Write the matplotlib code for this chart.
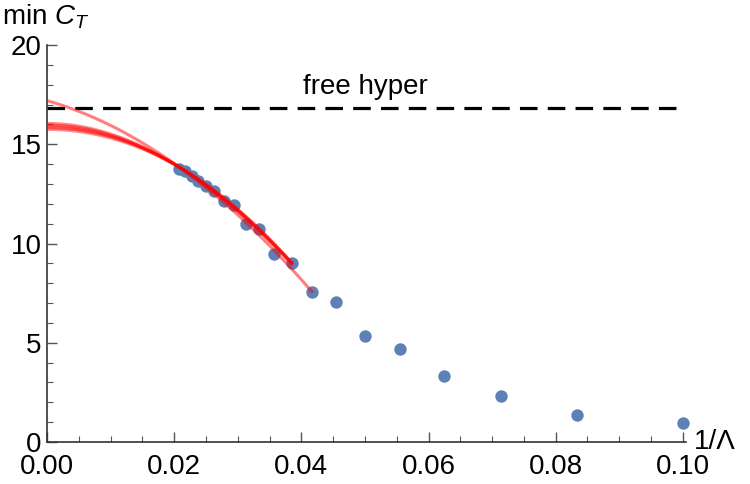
import numpy as np
import matplotlib.pyplot as plt
from matplotlib.ticker import MultipleLocator, FormatStrFormatter

plt.rcParams['font.family'] = ['Liberation Sans', 'DejaVu Sans']
plt.rcParams['mathtext.fontset'] = 'custom'
plt.rcParams['mathtext.rm'] = 'Liberation Sans'
plt.rcParams['mathtext.it'] = 'Liberation Sans:italic'

# data points: 1/Lambda and min C_T
inv_lambda = [1/10, 1/12, 1/14, 1/16, 1/18, 1/20, 1/22, 1/24, 1/26, 1/28,
              1/30, 1/32, 1/34, 1/36, 1/38, 1/40, 1/42, 1/44, 1/46, 1/48]
min_ct = [0.96, 1.36, 2.32, 3.32, 4.68, 5.34, 7.05, 7.56, 9.02, 9.47,
          10.73, 10.98, 11.94, 12.14, 12.64, 12.90, 13.15, 13.40, 13.65, 13.75]

free_hyper = 16.83

# fit curves (coefficients): c0 + c1 x + c2 x^2 + c3 x^3
fit_a = [17.2, -91.6, -3348.0, 0.0]
fit_a_xmax = 1/24
fit_bundle = [[15.75, 0.0, -4263.0, -7577.0],
              [15.83, 0.0, -4500.0, -2000.0],
              [15.90, 0.0, -4889.0, 6040.0],
              [15.97, 0.0, -5150.0, 11000.0],
              [16.05, 0.0, -5515.0, 19654.0]]
fit_bundle_xmax = 1/26

fig = plt.figure(figsize=(7.5, 4.84), dpi=100)
ax = fig.add_axes([0.0627, 0.0868, 0.8520, 0.8202])

red = (1.0, 0.0, 0.0)
for c in fit_bundle:
    xs = np.linspace(0, fit_bundle_xmax, 200)
    ax.plot(xs, np.polyval(c[::-1], xs), color=red, alpha=0.45, lw=2.2, zorder=3)
xs = np.linspace(0, fit_a_xmax, 200)
ax.plot(xs, np.polyval(fit_a[::-1], xs), color=red, alpha=0.5, lw=2.2, zorder=3)

ax.scatter(inv_lambda, min_ct, s=80, color='#5E81B5', zorder=2, clip_on=False,
           linewidths=0)

ax.plot([0, 0.1], [free_hyper, free_hyper], color='black', lw=2.3,
        ls=(0, (5.5, 3.2)), zorder=1)
ax.text(0.05, 17.9, 'free hyper', fontsize=20, ha='center', va='center')

ax.set_xlim(0, 0.1005)
ax.set_ylim(0, 20)
for s in ['top', 'right']:
    ax.spines[s].set_visible(False)
for s in ['left', 'bottom']:
    ax.spines[s].set_color('#333333')
    ax.spines[s].set_linewidth(1.2)

ax.xaxis.set_major_locator(MultipleLocator(0.02))
ax.xaxis.set_minor_locator(MultipleLocator(0.005))
ax.yaxis.set_major_locator(MultipleLocator(5))
ax.yaxis.set_minor_locator(MultipleLocator(1))
ax.xaxis.set_major_formatter(FormatStrFormatter('%.2f'))
ax.tick_params(which='both', direction='in', color='#555555', labelsize=20)
ax.tick_params(which='major', length=7, width=1.0)
ax.tick_params(which='minor', length=4, width=0.8)
ax.tick_params(axis='x', pad=9)
ax.tick_params(axis='y', pad=4)
for lab in ax.get_xticklabels():
    lab.set_family(['Liberation Sans Narrow', 'Liberation Sans'])

fig.text(0.925, 0.087, '1/\u039b', fontsize=20, ha='left', va='center')
fig.text(0.002, 0.965, 'min $C_T$', fontsize=20, ha='left', va='center')

fig.savefig('out.png', dpi=100)
